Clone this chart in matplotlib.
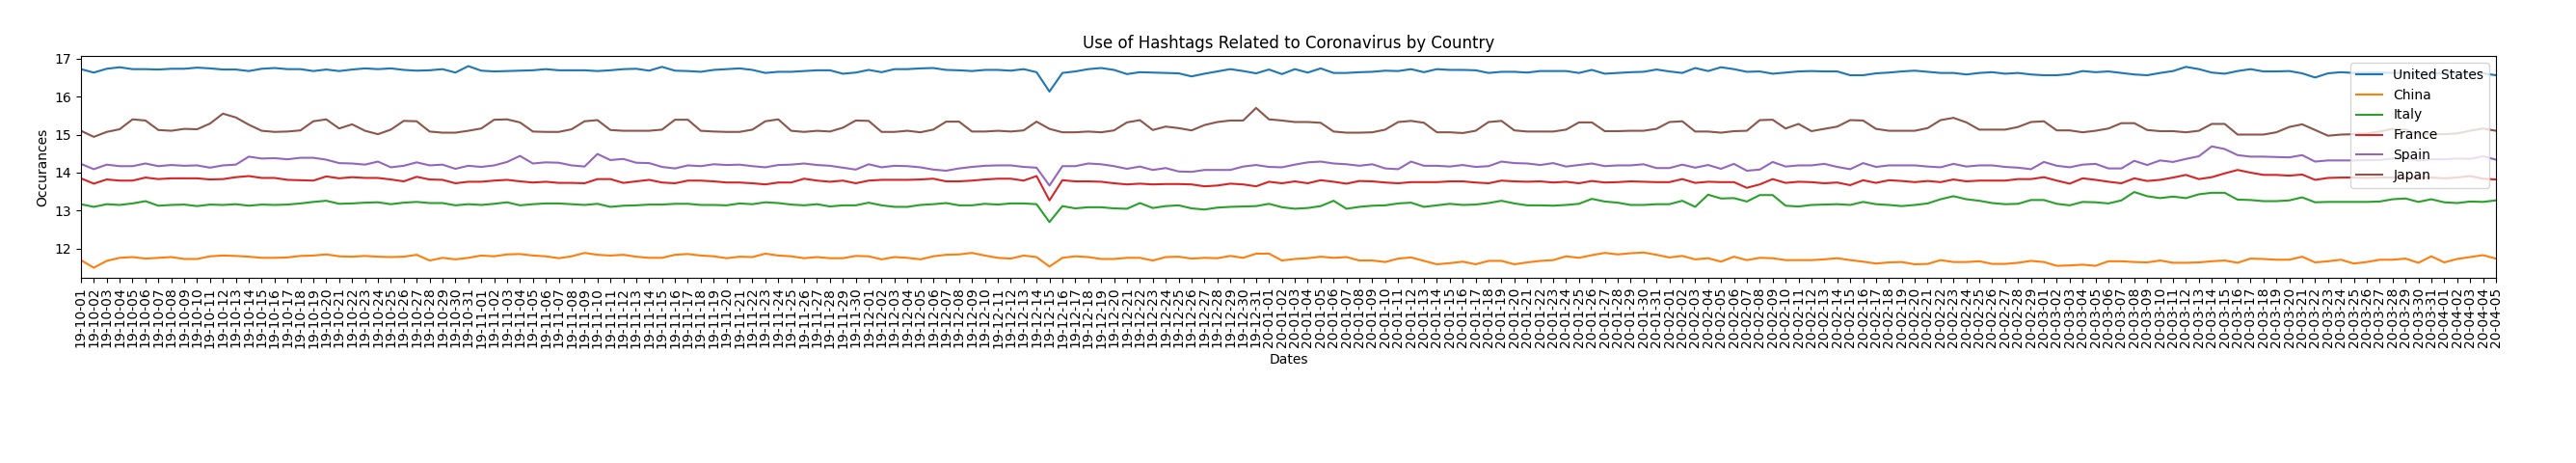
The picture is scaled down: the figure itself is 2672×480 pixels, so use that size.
import matplotlib
matplotlib.use("Agg")
import matplotlib.pyplot as plt
import numpy as np
import pandas as pd

dates = pd.date_range("2019-10-01", "2020-04-05", freq="D")
date_labels = [d.strftime("%y-%m-%d") for d in dates]

countries = ["United States", "China", "Italy", "France", "Spain", "Japan"]

united_states = [
    16.72, 16.63, 16.73, 16.77, 16.72, 16.72, 16.71, 16.73, 16.73, 16.76, 16.74, 16.71, 16.71, 16.67, 16.73, 16.75,
    16.72, 16.72, 16.67, 16.71, 16.67, 16.71, 16.74, 16.72, 16.74, 16.70, 16.68, 16.69, 16.72, 16.63, 16.80, 16.68,
    16.66, 16.67, 16.68, 16.69, 16.72, 16.69, 16.69, 16.69, 16.67, 16.69, 16.72, 16.73, 16.68, 16.78, 16.68, 16.67,
    16.65, 16.70, 16.72, 16.74, 16.70, 16.62, 16.65, 16.65, 16.67, 16.69, 16.69, 16.60, 16.63, 16.70, 16.64,
    16.72, 16.72, 16.74, 16.75, 16.70, 16.69, 16.67, 16.70, 16.70, 16.68, 16.72, 16.64, 16.13, 16.62, 16.66, 16.72,
    16.75, 16.70, 16.59, 16.64, 16.63, 16.62, 16.61, 16.53, 16.60, 16.66, 16.72, 16.67, 16.61, 16.71, 16.59,
    16.72, 16.63, 16.74, 16.62, 16.62, 16.64, 16.65, 16.68, 16.67, 16.72, 16.64, 16.72, 16.70, 16.70, 16.69, 16.62,
    16.65, 16.65, 16.63, 16.67, 16.67, 16.67, 16.62, 16.70, 16.60, 16.62, 16.64, 16.65, 16.71, 16.66, 16.62,
    16.75, 16.67, 16.77, 16.72, 16.65, 16.66, 16.60, 16.63, 16.66, 16.67, 16.66, 16.66, 16.56, 16.56, 16.61, 16.63,
    16.66, 16.68, 16.65, 16.62, 16.62, 16.58, 16.62, 16.64, 16.60, 16.62, 16.58, 16.56, 16.56, 16.59, 16.67,
    16.64, 16.66, 16.62, 16.58, 16.56, 16.62, 16.67, 16.78, 16.72, 16.63, 16.60, 16.67, 16.72, 16.66, 16.66, 16.67,
    16.61, 16.50, 16.61, 16.64, 16.62, 16.63, 16.63, 16.62, 16.62, 16.60, 16.60, 16.62, 16.62, 16.61, 16.61, 16.56,
]

china = [
    11.70, 11.50, 11.68, 11.76, 11.78, 11.74, 11.76, 11.78, 11.73, 11.73, 11.80, 11.82, 11.81, 11.79, 11.76, 11.76,
    11.77, 11.81, 11.82, 11.85, 11.80, 11.79, 11.81, 11.79, 11.78, 11.79, 11.84, 11.69, 11.76, 11.72, 11.76, 11.82,
    11.80, 11.85, 11.86, 11.82, 11.80, 11.75, 11.80, 11.89, 11.84, 11.82, 11.84, 11.79, 11.76, 11.76, 11.84, 11.86,
    11.82, 11.80, 11.75, 11.79, 11.78, 11.87, 11.82, 11.80, 11.75, 11.78, 11.75, 11.75, 11.81, 11.80, 11.72,
    11.78, 11.76, 11.72, 11.80, 11.84, 11.85, 11.89, 11.82, 11.76, 11.74, 11.82, 11.78, 11.53, 11.76, 11.80, 11.78,
    11.73, 11.73, 11.76, 11.76, 11.69, 11.78, 11.79, 11.74, 11.76, 11.75, 11.81, 11.76, 11.87, 11.87, 11.69,
    11.73, 11.75, 11.79, 11.76, 11.78, 11.69, 11.69, 11.65, 11.74, 11.77, 11.68, 11.59, 11.62, 11.66, 11.59, 11.68,
    11.68, 11.59, 11.64, 11.68, 11.70, 11.80, 11.76, 11.83, 11.89, 11.85, 11.88, 11.90, 11.84, 11.77, 11.81,
    11.72, 11.75, 11.66, 11.79, 11.70, 11.76, 11.75, 11.70, 11.70, 11.70, 11.72, 11.75, 11.70, 11.66, 11.61, 11.64,
    11.65, 11.59, 11.60, 11.70, 11.65, 11.65, 11.67, 11.60, 11.60, 11.63, 11.68, 11.65, 11.55, 11.56, 11.58,
    11.55, 11.67, 11.67, 11.65, 11.64, 11.69, 11.63, 11.63, 11.64, 11.67, 11.69, 11.63, 11.74, 11.73, 11.71, 11.71,
    11.79, 11.64, 11.67, 11.71, 11.61, 11.65, 11.71, 11.71, 11.74, 11.63, 11.80, 11.64, 11.73, 11.78, 11.83, 11.74,
]

italy = [
    13.17, 13.10, 13.17, 13.15, 13.19, 13.25, 13.13, 13.15, 13.16, 13.12, 13.16, 13.15, 13.17, 13.13, 13.16, 13.15,
    13.16, 13.19, 13.23, 13.26, 13.18, 13.19, 13.21, 13.22, 13.17, 13.21, 13.23, 13.20, 13.20, 13.14, 13.17, 13.15,
    13.18, 13.22, 13.14, 13.17, 13.19, 13.19, 13.17, 13.15, 13.18, 13.10, 13.13, 13.14, 13.16, 13.16, 13.18, 13.18,
    13.15, 13.15, 13.14, 13.19, 13.17, 13.22, 13.20, 13.16, 13.14, 13.17, 13.11, 13.14, 13.14, 13.21, 13.14,
    13.10, 13.10, 13.15, 13.17, 13.20, 13.14, 13.14, 13.18, 13.16, 13.19, 13.19, 13.17, 12.70, 13.12, 13.06, 13.09,
    13.09, 13.06, 13.05, 13.20, 13.07, 13.12, 13.14, 13.06, 13.03, 13.08, 13.10, 13.11, 13.12, 13.18, 13.09,
    13.05, 13.07, 13.12, 13.26, 13.05, 13.10, 13.13, 13.14, 13.19, 13.21, 13.10, 13.14, 13.18, 13.15, 13.16, 13.20,
    13.26, 13.19, 13.14, 13.14, 13.13, 13.15, 13.18, 13.31, 13.24, 13.21, 13.15, 13.15, 13.17, 13.17, 13.26,
    13.10, 13.42, 13.32, 13.33, 13.24, 13.41, 13.41, 13.13, 13.11, 13.15, 13.16, 13.17, 13.15, 13.23, 13.17, 13.15,
    13.12, 13.15, 13.19, 13.30, 13.38, 13.30, 13.26, 13.20, 13.17, 13.18, 13.28, 13.28, 13.18, 13.14, 13.23,
    13.22, 13.19, 13.27, 13.49, 13.38, 13.33, 13.37, 13.33, 13.43, 13.47, 13.47, 13.29, 13.28, 13.25, 13.25, 13.27,
    13.35, 13.22, 13.23, 13.23, 13.23, 13.23, 13.24, 13.30, 13.32, 13.23, 13.30, 13.22, 13.20, 13.24, 13.23, 13.27,
]

france = [
    13.85, 13.71, 13.82, 13.79, 13.79, 13.87, 13.83, 13.85, 13.85, 13.85, 13.82, 13.83, 13.88, 13.91, 13.86, 13.86,
    13.81, 13.80, 13.79, 13.90, 13.85, 13.88, 13.86, 13.86, 13.82, 13.77, 13.89, 13.82, 13.81, 13.72, 13.76, 13.76,
    13.79, 13.81, 13.77, 13.74, 13.76, 13.73, 13.73, 13.72, 13.83, 13.83, 13.73, 13.77, 13.81, 13.74, 13.72, 13.79,
    13.79, 13.77, 13.74, 13.74, 13.72, 13.69, 13.74, 13.74, 13.84, 13.79, 13.76, 13.79, 13.72, 13.79, 13.81,
    13.81, 13.81, 13.82, 13.84, 13.77, 13.77, 13.79, 13.82, 13.84, 13.84, 13.79, 13.91, 13.27, 13.80, 13.77, 13.77,
    13.76, 13.72, 13.69, 13.71, 13.69, 13.70, 13.70, 13.69, 13.64, 13.66, 13.71, 13.69, 13.64, 13.76, 13.72,
    13.77, 13.72, 13.80, 13.76, 13.71, 13.78, 13.77, 13.74, 13.72, 13.75, 13.75, 13.75, 13.77, 13.77, 13.74, 13.72,
    13.79, 13.77, 13.76, 13.77, 13.74, 13.76, 13.72, 13.78, 13.74, 13.75, 13.77, 13.76, 13.75, 13.75, 13.83,
    13.73, 13.76, 13.75, 13.75, 13.60, 13.69, 13.83, 13.73, 13.76, 13.75, 13.72, 13.74, 13.67, 13.80, 13.73, 13.80,
    13.78, 13.75, 13.78, 13.75, 13.82, 13.77, 13.79, 13.79, 13.79, 13.83, 13.83, 13.88, 13.79, 13.71, 13.85,
    13.81, 13.76, 13.72, 13.85, 13.78, 13.81, 13.87, 13.94, 13.83, 13.88, 13.98, 14.07, 14.00, 13.94, 13.94, 13.92,
    13.95, 13.81, 13.86, 13.87, 13.87, 13.86, 13.87, 13.87, 13.86, 13.88, 13.87, 13.85, 13.87, 13.91, 13.84, 13.82,
]

spain = [
    14.23, 14.09, 14.21, 14.17, 14.17, 14.24, 14.17, 14.20, 14.18, 14.19, 14.13, 14.19, 14.21, 14.42, 14.37, 14.38,
    14.35, 14.39, 14.39, 14.34, 14.25, 14.24, 14.21, 14.29, 14.14, 14.18, 14.27, 14.19, 14.21, 14.10, 14.18, 14.15,
    14.19, 14.28, 14.44, 14.24, 14.27, 14.26, 14.19, 14.16, 14.49, 14.33, 14.36, 14.26, 14.25, 14.15, 14.11, 14.19,
    14.17, 14.22, 14.20, 14.21, 14.17, 14.14, 14.20, 14.21, 14.24, 14.20, 14.18, 14.13, 14.08, 14.22, 14.14,
    14.18, 14.17, 14.14, 14.08, 14.05, 14.11, 14.15, 14.18, 14.19, 14.19, 14.15, 14.13, 13.66, 14.17, 14.17, 14.24,
    14.22, 14.17, 14.10, 14.16, 14.07, 14.12, 14.03, 14.02, 14.07, 14.07, 14.07, 14.16, 14.20, 14.15, 14.14,
    14.21, 14.27, 14.29, 14.24, 14.22, 14.18, 14.22, 14.11, 14.09, 14.29, 14.18, 14.18, 14.16, 14.20, 14.15, 14.17,
    14.29, 14.25, 14.24, 14.20, 14.25, 14.16, 14.20, 14.24, 14.17, 14.19, 14.19, 14.22, 14.12, 14.12, 14.21,
    14.13, 14.20, 14.10, 14.23, 14.05, 14.08, 14.28, 14.16, 14.19, 14.19, 14.23, 14.15, 14.09, 14.25, 14.15, 14.19,
    14.19, 14.19, 14.16, 14.14, 14.23, 14.16, 14.19, 14.19, 14.15, 14.13, 14.09, 14.28, 14.18, 14.14, 14.21,
    14.23, 14.11, 14.11, 14.31, 14.20, 14.32, 14.28, 14.36, 14.43, 14.69, 14.62, 14.46, 14.42, 14.42, 14.41, 14.40,
    14.46, 14.29, 14.32, 14.32, 14.32, 14.33, 14.33, 14.37, 14.37, 14.32, 14.35, 14.35, 14.37, 14.36, 14.43, 14.34,
]

japan = [
    15.10, 14.94, 15.07, 15.14, 15.40, 15.37, 15.12, 15.10, 15.15, 15.14, 15.29, 15.55, 15.45, 15.26, 15.10, 15.07,
    15.08, 15.11, 15.35, 15.40, 15.16, 15.27, 15.10, 15.01, 15.13, 15.36, 15.35, 15.08, 15.05, 15.05, 15.10, 15.16,
    15.39, 15.40, 15.32, 15.08, 15.07, 15.07, 15.14, 15.35, 15.38, 15.12, 15.10, 15.10, 15.10, 15.13, 15.39, 15.39,
    15.10, 15.08, 15.07, 15.07, 15.13, 15.35, 15.40, 15.10, 15.07, 15.10, 15.08, 15.18, 15.37, 15.36, 15.07,
    15.07, 15.10, 15.06, 15.13, 15.34, 15.34, 15.08, 15.08, 15.10, 15.08, 15.11, 15.34, 15.15, 15.06, 15.06, 15.08,
    15.06, 15.11, 15.32, 15.38, 15.12, 15.21, 15.17, 15.11, 15.25, 15.33, 15.37, 15.37, 15.70, 15.40, 15.37,
    15.33, 15.33, 15.31, 15.08, 15.05, 15.05, 15.06, 15.13, 15.33, 15.36, 15.31, 15.06, 15.06, 15.04, 15.10, 15.33,
    15.36, 15.11, 15.08, 15.08, 15.08, 15.13, 15.32, 15.32, 15.09, 15.09, 15.10, 15.10, 15.15, 15.33, 15.35,
    15.08, 15.08, 15.05, 15.09, 15.10, 15.38, 15.39, 15.16, 15.28, 15.09, 15.15, 15.21, 15.38, 15.37, 15.15, 15.10,
    15.10, 15.10, 15.17, 15.38, 15.44, 15.32, 15.13, 15.13, 15.13, 15.20, 15.33, 15.35, 15.11, 15.11, 15.06,
    15.10, 15.16, 15.30, 15.30, 15.12, 15.09, 15.09, 15.06, 15.10, 15.28, 15.28, 15.00, 15.00, 15.00, 15.06, 15.20,
    15.27, 15.12, 14.97, 15.00, 15.01, 15.03, 15.08, 15.15, 15.13, 15.01, 15.01, 15.01, 15.03, 15.10, 15.16, 15.10,
]

series = [united_states, china, italy, france, spain, japan]

fig = plt.figure(figsize=(26.72, 4.8), dpi=100)
ax = fig.add_axes([0.0314, 0.40, 0.9375, 0.479])

x = np.arange(len(date_labels))
for name, vals in zip(countries, series):
    ax.plot(x, vals, label=name)

ax.set_xticks(x)
ax.set_xticklabels(date_labels, rotation=90)
ax.set_xlim(x[0], x[-1])
ax.set_title("Use of Hashtags Related to Coronavirus by Country")
ax.set_xlabel("Dates")
ax.set_ylabel("Occurances")
ax.legend(loc="upper right")

fig.savefig("out.png", dpi=100)
